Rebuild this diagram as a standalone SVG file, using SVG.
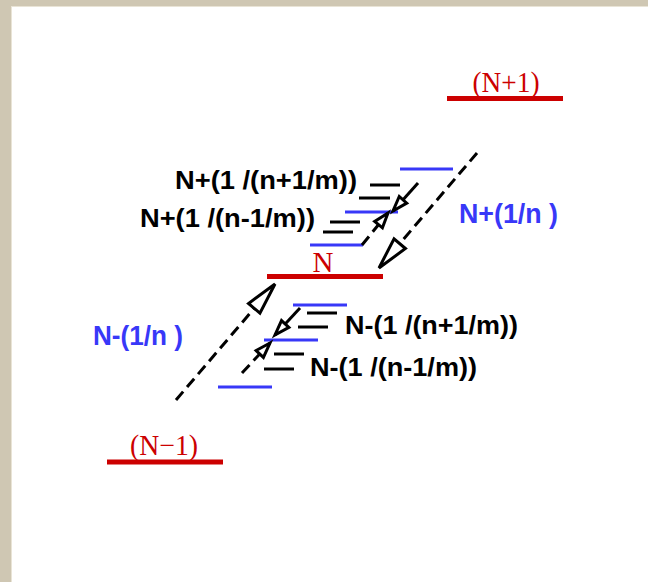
<svg xmlns="http://www.w3.org/2000/svg" width="648" height="582" viewBox="0 0 648 582">
<style>
.lvl{stroke:#CC0000;stroke-width:5;fill:none}
.sub{stroke:#3838F8;stroke-width:3;fill:none}
.bk{stroke:#000;stroke-width:3;fill:none}
.dash{stroke:#000;stroke-width:3;fill:none;stroke-dasharray:11 6}
.solid{stroke:#000;stroke-width:3;fill:none}
.red{font-family:"Liberation Serif","Times New Roman",serif;font-size:29px;fill:#CC0000}
.lab{font-family:"Liberation Sans",Arial,sans-serif;font-weight:bold;font-size:25.5px;fill:#000}
.blu{font-family:"Liberation Sans",Arial,sans-serif;font-weight:bold;font-size:28px;fill:#3838F8}
</style>
<defs>
<marker id="big" markerUnits="userSpaceOnUse" orient="auto" refX="0" refY="0" markerWidth="40" markerHeight="20" overflow="visible">
<path d="M0,0 L-32,-7.5 L-32,7.5 Z" fill="#fff" stroke="#000" stroke-width="3" stroke-linejoin="miter"/>
</marker>
<marker id="small" markerUnits="userSpaceOnUse" orient="auto" refX="0" refY="0" markerWidth="20" markerHeight="12" overflow="visible">
<path d="M0,0 L-15,-5 L-15,5 Z" fill="#fff" stroke="#000" stroke-width="3" stroke-linejoin="miter"/>
</marker>
</defs>
<rect x="0" y="0" width="648" height="582" fill="#CFC7B3"/>
<rect x="11" y="6" width="637" height="576" fill="#E9E4D6"/>
<rect x="12" y="7" width="636" height="575" fill="#fff"/>

<g id="level-Nplus1">
<line class="lvl" x1="447" y1="98.5" x2="563" y2="98.5"/>
<text class="red" x="506" y="92" text-anchor="middle" textLength="67" lengthAdjust="spacingAndGlyphs">(N+1)</text>
</g>
<g id="level-N">
<line class="lvl" x1="267" y1="276.5" x2="383" y2="276.5"/>
<text class="red" x="323" y="272" text-anchor="middle">N</text>
</g>
<g id="level-Nminus1">
<line class="lvl" x1="107" y1="462" x2="223" y2="462"/>
<text class="red" x="164" y="455" text-anchor="middle" textLength="68" lengthAdjust="spacingAndGlyphs">(N−1)</text>
</g>

<g id="sublevels">
<line class="sub" x1="400" y1="169" x2="453" y2="169"/>
<line class="sub" x1="345" y1="212" x2="398" y2="212"/>
<line class="sub" x1="310" y1="245" x2="363" y2="245"/>
<line class="sub" x1="293" y1="305" x2="347" y2="305"/>
<line class="sub" x1="264" y1="340" x2="318" y2="340"/>
<line class="sub" x1="218" y1="387" x2="272" y2="387"/>
</g>

<g id="label-np1m">
<line class="bk" x1="370" y1="185" x2="400" y2="185"/>
<line class="bk" x1="359" y1="198" x2="390" y2="198"/>
<text class="lab" x="175" y="189" textLength="182" lengthAdjust="spacingAndGlyphs">N+(1 /(n+1/m))</text>
</g>
<g id="label-nm1m">
<line class="bk" x1="330" y1="222" x2="360" y2="222"/>
<line class="bk" x1="323" y1="232" x2="353" y2="232"/>
<text class="lab" x="140" y="227" textLength="175" lengthAdjust="spacingAndGlyphs">N+(1 /(n-1/m))</text>
</g>
<g id="label-minus-np1m">
<line class="bk" x1="307" y1="313" x2="337" y2="313"/>
<line class="bk" x1="298" y1="327" x2="328" y2="327"/>
<text class="lab" x="345" y="334" textLength="173" lengthAdjust="spacingAndGlyphs">N-(1 /(n+1/m))</text>
</g>
<g id="label-minus-nm1m">
<line class="bk" x1="274" y1="354" x2="304" y2="354"/>
<line class="bk" x1="264" y1="369" x2="294" y2="369"/>
<text class="lab" x="310" y="376" textLength="167" lengthAdjust="spacingAndGlyphs">N-(1 /(n-1/m))</text>
</g>
<g id="label-plus">
<text class="blu" x="459" y="223" textLength="99" lengthAdjust="spacingAndGlyphs">N+(1/n )</text>
</g>
<g id="label-minus">
<text class="blu" x="93" y="345" textLength="90" lengthAdjust="spacingAndGlyphs">N-(1/n )</text>
</g>

<g id="connectors">
<line class="dash" x1="477" y1="153" x2="379" y2="268" marker-end="url(#big)"/>
<line class="dash" x1="176" y1="400" x2="275" y2="284" marker-end="url(#big)"/>
<line class="solid" x1="418" y1="183" x2="393" y2="211" marker-end="url(#small)"/>
<line class="dash" x1="362" y1="245" x2="388" y2="213" marker-end="url(#small)"/>
<line class="solid" x1="300" y1="308" x2="275" y2="335" marker-end="url(#small)"/>
<line class="dash" x1="242" y1="373" x2="270" y2="343" marker-end="url(#small)"/>
</g>
</svg>
